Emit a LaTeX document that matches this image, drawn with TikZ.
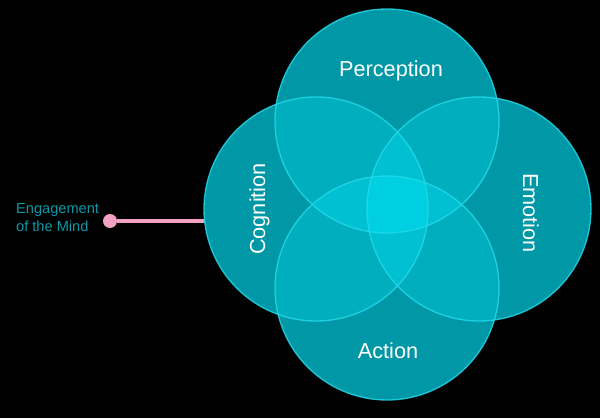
\documentclass[tikz,border=0pt]{standalone}
\usepackage{fontspec}
\setmainfont{Liberation Sans}
\definecolor{cone}{HTML}{0098A6}
\definecolor{ctwo}{HTML}{00AEBE}
\definecolor{cthree}{HTML}{00C0D2}
\definecolor{cfour}{HTML}{00CFE2}
\definecolor{rim}{HTML}{22DAEA}
\definecolor{pinkline}{HTML}{F4A2C2}
\definecolor{labteal}{HTML}{0A9AA8}
\tikzset{
  ring/.style={circle, minimum size=224pt, inner sep=0pt, draw=rim, draw opacity=0.85, line width=1.3pt},
  bigtext/.style={text=white, font=\fontsize{21.7}{26}\selectfont, inner sep=0pt, anchor=base},
  sidetext/.style={text=labteal, font=\fontsize{14.6}{18}\selectfont, align=left, inner sep=0pt, anchor=north west},
  pinkdot/.style={circle, fill=pinkline, minimum size=14pt, inner sep=0pt},
  pinkconn/.style={draw=pinkline, line width=4.5pt}
}
\begin{document}
\begin{tikzpicture}[x=1pt,y=-1pt]
\fill[black] (0,0) rectangle (600,418);
\def\cP{(387,121) circle (112pt)}
\def\cC{(316,209) circle (112pt)}
\def\cE{(479,209) circle (112pt)}
\def\cA{(387,288) circle (112pt)}
% connector to the mind label
\node[pinkdot] (dot) at (110,221) {};
\coordinate (lineend) at (210,221);
\draw[pinkconn] (dot) -- (lineend);
% single fills
\fill[cone] \cP; \fill[cone] \cC; \fill[cone] \cE; \fill[cone] \cA;
% pairwise
\begin{scope}\clip \cP; \fill[ctwo] \cC; \fill[ctwo] \cE; \fill[ctwo] \cA; \end{scope}
\begin{scope}\clip \cA; \fill[ctwo] \cC; \fill[ctwo] \cE; \end{scope}
\begin{scope}\clip \cC; \fill[ctwo] \cE; \end{scope}
% triples
\begin{scope}\clip \cP; \clip \cA; \fill[cthree] \cC; \fill[cthree] \cE; \end{scope}
\begin{scope}\clip \cC; \clip \cE; \fill[cthree] \cP; \fill[cthree] \cA; \end{scope}
% quad
\begin{scope}\clip \cP; \clip \cA; \clip \cC; \fill[cfour] \cE; \end{scope}
% outlines
\node[ring] (P) at (387,121) {};
\node[ring] (C) at (316,209) {};
\node[ring] (E) at (479,209) {};
\node[ring] (A) at (387,288) {};
% labels
\node[bigtext] (tP) at (391,76) {Perception};
\node[bigtext] (tA) at (388,358) {Action};
\node[bigtext, rotate=90] (tC) at (265,209) {Cognition};
\node[bigtext, rotate=-90] (tE) at (523,213) {Emotion};
\node[sidetext] (lab) at (16,203) {Engagement\\of the Mind};
\end{tikzpicture}
\end{document}
